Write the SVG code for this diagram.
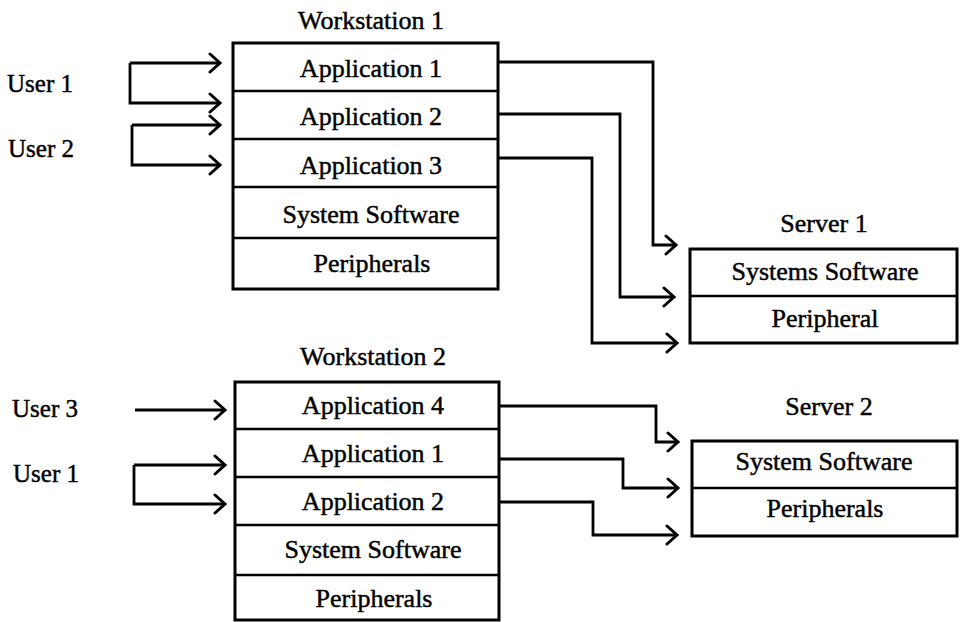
<svg xmlns="http://www.w3.org/2000/svg" width="961" height="622" viewBox="0 0 961 622">
  <style>
    text { font-family: "Liberation Serif", "Times New Roman", serif; fill: #000; stroke: #000; stroke-width: 0.45; }
    .lbl { font-size: 26px; text-anchor: middle; }
    .usr { font-size: 25px; }
    .frame { fill: #fff; stroke: #000; stroke-width: 3; }
    .row { stroke: #000; stroke-width: 2.4; fill: none; }
    .wire { fill: none; stroke: #000; stroke-width: 2.8; stroke-linejoin: miter; marker-end: url(#chev); }
  </style>
  <defs>
    <marker id="chev" markerUnits="userSpaceOnUse" markerWidth="16" markerHeight="22" viewBox="0 0 16 22" refX="13" refY="11" orient="auto">
      <path d="M3,2 L13,11 L3,20" fill="none" stroke="#000" stroke-width="3" stroke-linecap="round" stroke-linejoin="miter"/>
    </marker>
  </defs>
  <rect width="961" height="622" fill="#fff"/>

  <!-- Users -->
  <g id="user1-a"><text class="usr" x="7" y="92">User 1</text></g>
  <g id="user2"><text class="usr" x="8" y="157">User 2</text></g>
  <g id="user3"><text class="usr" x="12" y="417">User 3</text></g>
  <g id="user1-b"><text class="usr" x="13" y="482">User 1</text></g>

  <!-- Workstation 1 -->
  <g id="workstation1">
    <text class="lbl" x="371" y="29">Workstation 1</text>
    <rect class="frame" x="233" y="43" width="265" height="246"/>
    <path class="row" d="M233,91 H498 M233,139 H498 M233,187 H498 M233,238 H498"/>
    <text class="lbl" x="371" y="77">Application 1</text>
    <text class="lbl" x="371" y="125">Application 2</text>
    <text class="lbl" x="371" y="174">Application 3</text>
    <text class="lbl" x="371" y="223">System Software</text>
    <text class="lbl" x="372" y="272">Peripherals</text>
  </g>

  <!-- Server 1 -->
  <g id="server1">
    <text class="lbl" x="824" y="232">Server 1</text>
    <rect class="frame" x="690" y="249" width="267" height="94"/>
    <path class="row" d="M690,296 H957"/>
    <text class="lbl" x="825" y="280">Systems Software</text>
    <text class="lbl" x="825" y="327">Peripheral</text>
  </g>

  <!-- Workstation 2 -->
  <g id="workstation2">
    <text class="lbl" x="373" y="365">Workstation 2</text>
    <rect class="frame" x="235" y="382" width="264" height="238"/>
    <path class="row" d="M235,429 H499 M235,477 H499 M235,525 H499 M235,575 H499"/>
    <text class="lbl" x="373" y="414">Application 4</text>
    <text class="lbl" x="373" y="462">Application 1</text>
    <text class="lbl" x="373" y="510">Application 2</text>
    <text class="lbl" x="373" y="558">System Software</text>
    <text class="lbl" x="374" y="607">Peripherals</text>
  </g>

  <!-- Server 2 -->
  <g id="server2">
    <text class="lbl" x="829" y="415">Server 2</text>
    <rect class="frame" x="692" y="441" width="265" height="95"/>
    <path class="row" d="M692,488 H957"/>
    <text class="lbl" x="824" y="470">System Software</text>
    <text class="lbl" x="825" y="517">Peripherals</text>
  </g>

  <!-- Connectors -->
  <g id="connectors">
    <!-- users into workstation 1 -->
    <path class="wire" d="M130,63 H220"/>
    <path class="wire" d="M130,63 V103 H220"/>
    <path class="wire" d="M132,125 H220"/>
    <path class="wire" d="M132,125 V165 H220"/>
    <!-- users into workstation 2 -->
    <path class="wire" d="M135,410 H225"/>
    <path class="wire" d="M134,465 H225"/>
    <path class="wire" d="M134,465 V504 H225"/>
    <!-- workstation 1 to server 1 -->
    <path class="wire" d="M498,62 H653 V245 H676"/>
    <path class="wire" d="M498,114 H620 V297 H674"/>
    <path class="wire" d="M498,158 H592 V343 H677"/>
    <!-- workstation 2 to server 2 -->
    <path class="wire" d="M499,406 H656 V442 H678"/>
    <path class="wire" d="M499,459 H623 V488 H678"/>
    <path class="wire" d="M499,502 H593 V535 H677"/>
  </g>
</svg>
